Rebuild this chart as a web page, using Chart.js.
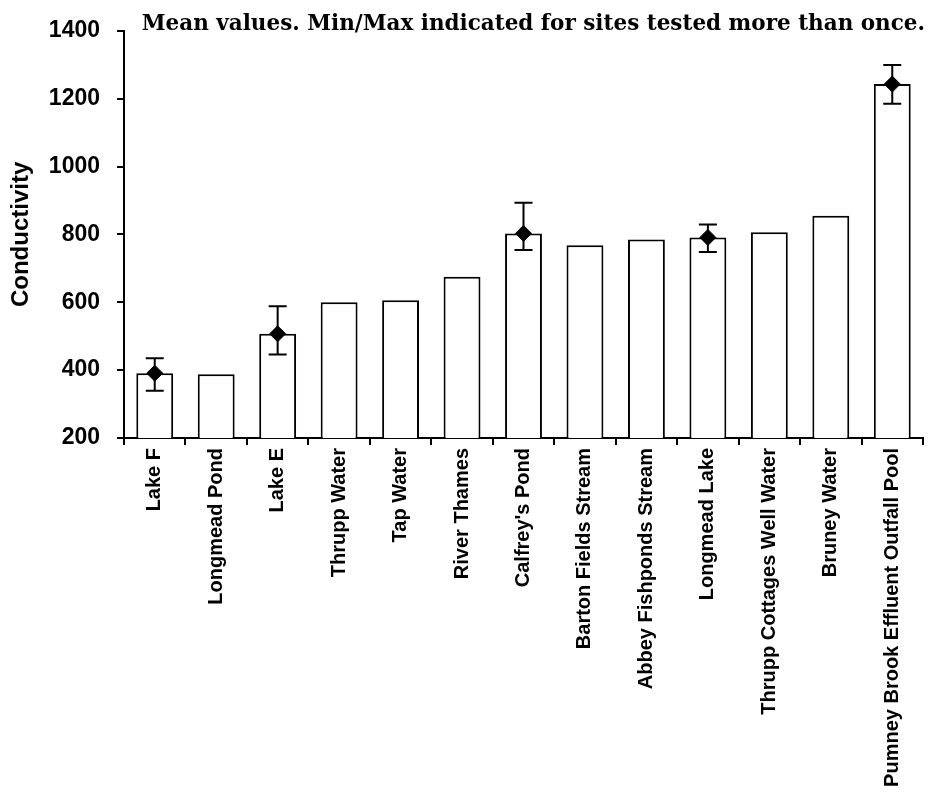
<!DOCTYPE html>
<html>
<head>
<meta charset="utf-8">
<script src="https://cdn.jsdelivr.net/npm/chart.js@4/dist/chart.umd.min.js"></script>
<style>
    html, body { margin: 0; padding: 0; background: #fff; }
    #wrap { width: 938px; height: 800px; }
</style>
</head>
<body>
<div id="wrap"><canvas id="conductivityChart"></canvas></div>
<script>
const sites = ['Lake F', 'Longmead Pond', 'Lake E', 'Thrupp Water', 'Tap Water', 'River Thames', "Calfrey's Pond",
    'Barton Fields Stream', 'Abbey Fishponds Stream', 'Longmead Lake', 'Thrupp Cottages Well Water', 'Bruney Water',
    'Pumney Brook Effluent Outfall Pool']
const means = [391, 388, 507, 600, 606, 675, 803, 768, 785, 791, 806, 855, 1243]
const mins = [339, null, 446, null, null, null, 754, null, null, 748, null, null, 1185]
const maxs = [435, null, 588, null, null, null, 893, null, null, 829, null, null, 1299]
const yTicks = [200, 400, 600, 800, 1000, 1200, 1400]
const titleText = 'Mean values. Min/Max indicated for sites tested more than once.'

const markers = means.map((m, i) => mins[i] === null ? null : m)

const errorBars = {
    id: 'errorBars',
    afterDatasetDraw: (chart, args) => {
        if (args.meta.type !== 'bar') { return }
        const { ctx, scales: { x, y } } = chart
        ctx.save()
        ctx.strokeStyle = '#000'
        ctx.lineWidth = 2
        sites.forEach((s, i) => {
            if (mins[i] === null) { return }
            const px = x.getPixelForValue(i)
            const top = y.getPixelForValue(maxs[i])
            const bottom = y.getPixelForValue(mins[i])
            ctx.beginPath()
            ctx.moveTo(px, top)
            ctx.lineTo(px, bottom)
            ctx.moveTo(px - 9, top)
            ctx.lineTo(px + 9, top)
            ctx.moveTo(px - 9, bottom)
            ctx.lineTo(px + 9, bottom)
            ctx.stroke()
        })
        ctx.restore()
    }
}

const noteTitle = {
    id: 'noteTitle',
    afterDraw: chart => {
        const { ctx, chartArea } = chart
        ctx.save()
        ctx.font = 'bold 21.5px "DejaVu Serif"'
        ctx.fillStyle = '#000'
        ctx.textAlign = 'right'
        ctx.textBaseline = 'alphabetic'
        ctx.fillText(titleText, chartArea.right + 2, 30)
        ctx.restore()
    }
}

const chart = new Chart(document.getElementById('conductivityChart'), {
    data: {
        labels: sites,
        datasets: [{
            type: 'line',
            data: markers,
            showLine: false,
            pointStyle: 'rectRot',
            pointRadius: 8,
            pointBackgroundColor: '#000',
            pointBorderColor: '#000',
            order: 1
        }, {
            type: 'bar',
            data: means,
            backgroundColor: '#fff',
            borderColor: '#000',
            borderWidth: 2,
            categoryPercentage: 1,
            barPercentage: 0.6,
            order: 2
        }]
    },
    options: {
        responsive: true,
        maintainAspectRatio: false,
        animation: false,
        layout: { padding: { top: 24, right: 15, left: 0, bottom: 0 } },
        plugins: { legend: { display: false }, tooltip: { enabled: false } },
        scales: {
            x: {
                afterFit: scale => { scale.height = 362 },
                grid: { offset: true, drawOnChartArea: false, drawTicks: true, tickLength: 7, color: '#000', lineWidth: 2 },
                border: { color: '#000', width: 2 },
                ticks: {
                    color: '#000',
                    minRotation: 90,
                    maxRotation: 90,
                    autoSkip: false,
                    padding: 3,
                    font: { family: '"Liberation Sans", Arial', weight: 'bold', size: 20 }
                }
            },
            y: {
                min: 200,
                max: 1400,
                afterFit: scale => { scale.width = 124 },
                afterBuildTicks: scale => { scale.ticks = yTicks.map(v => ({ value: v })) },
                grid: { drawOnChartArea: false, drawTicks: true, tickLength: 7, color: '#000', lineWidth: 2 },
                border: { color: '#000', width: 2 },
                ticks: {
                    color: '#000',
                    padding: 17,
                    callback: v => String(v),
                    font: { family: '"Liberation Sans", Arial', weight: 'bold', size: 23 }
                },
                title: {
                    display: true,
                    text: 'Conductivity',
                    color: '#000',
                    padding: { top: 7, bottom: 0 },
                    font: { family: '"Liberation Sans", Arial', weight: 'bold', size: 24 }
                }
            }
        }
    },
    plugins: [errorBars, noteTitle]
})
</script>
</body>
</html>
